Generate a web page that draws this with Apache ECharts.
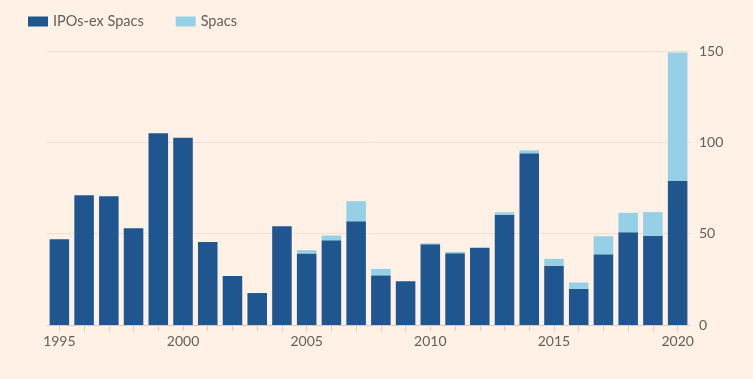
<!DOCTYPE html>
<html>
<head>
<meta charset="utf-8">
<script src="https://cdn.jsdelivr.net/npm/echarts@6/dist/echarts.min.js"></script>
<style>
html,body{margin:0;padding:0;background:#fff1e5;}
#chart{width:753px;height:379px;}
</style>
</head>
<body>
<div id="chart"></div>
<script>
const years = ['1995','1996','1997','1998','1999','2000','2001','2002','2003','2004','2005','2006','2007','2008','2009','2010','2011','2012','2013','2014','2015','2016','2017','2018','2019','2020'];
const ipos = [47, 71, 70.5, 53, 105, 102.5, 45.5, 26.8, 17.5, 54, 39.2, 46.4, 56.8, 27.2, 24, 44.2, 39.3, 42.3, 60.4, 94, 32.5, 19.8, 38.7, 50.8, 48.7, 78.8];
const spacs = [0, 0, 0, 0, 0, 0, 0, 0, 0, 0, 1.8, 2.6, 11, 3.5, 0, 0.5, 0.7, 0, 1.3, 1.6, 3.7, 3.5, 9.9, 10.6, 13.1, 70.4];
const yTicks = [0, 50, 100, 150];

const chart = echarts.init(document.getElementById('chart'));
const txt = '#66605c';
chart.setOption({
  backgroundColor: '#fff1e5',
  animation: false,
  textStyle: {fontFamily: 'Lato, sans-serif'},
  legend: {
    left: 23, top: 9,
    itemWidth: 20, itemHeight: 10, itemGap: 32,
    icon: 'rect',
    textStyle: {color: txt, fontSize: 14.5, fontFamily: 'Lato, sans-serif'},
    data: ['IPOs-ex Spacs', 'Spacs']
  },
  grid: {left: 47, right: 63, top: 51, bottom: 54, containLabel: false},
  xAxis: {
    type: 'category',
    data: years,
    axisLine: {lineStyle: {color: '#d9cdc3'}},
    axisTick: {show: true, alignWithLabel: true, interval: 0, length: 6, lineStyle: {color: '#d9cdc3'}},
    axisLabel: {color: txt, fontSize: 14, margin: 9, interval: (i) => i % 5 === 0}
  },
  yAxis: {
    type: 'value',
    position: 'right',
    min: yTicks[0], max: yTicks[yTicks.length - 1], interval: 50,
    axisLine: {show: false},
    axisTick: {show: false},
    axisLabel: {color: txt, fontSize: 14, margin: 9, align: 'left'},
    splitLine: {lineStyle: {color: '#f0e0d3', width: 1}}
  },
  series: [
    {name: 'IPOs-ex Spacs', type: 'bar', stack: 'a', data: ipos, barCategoryGap: '21%', itemStyle: {color: '#1f5690'}},
    {name: 'Spacs', type: 'bar', stack: 'a', data: spacs, itemStyle: {color: '#96d0e6'}}
  ]
});
</script>
</body>
</html>
